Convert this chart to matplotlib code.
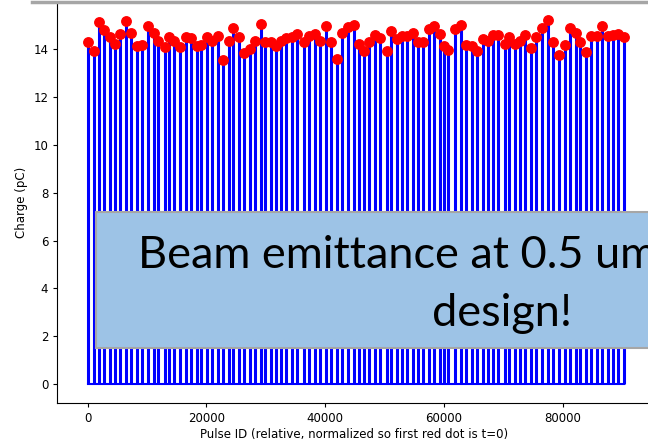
import matplotlib.pyplot as plt
from matplotlib.patches import Rectangle
from matplotlib.lines import Line2D

# pulse positions (relative pulse ID) and measured charge per pulse (pC)
pulse_id = [0, 1110, 1850, 2792, 3801, 4642, 5483, 6493, 7283, 8292,
            9133, 10092, 11202, 11875, 13002, 13725, 14566, 15575, 16585, 17425,
            18384, 19108, 20117, 20958, 21916, 22757, 23767, 24557, 25566, 26290,
            27349, 28258, 29200, 29940, 30831, 31790, 32631, 33472, 34414, 35322,
            36382, 37273, 38232, 39073, 40200, 41041, 41983, 42824, 43833, 44842,
            45633, 46524, 47432, 48374, 49215, 50342, 51015, 52024, 52865, 53824,
            54716, 55674, 56515, 57524, 58365, 59307, 60047, 60720, 61898, 62907,
            63681, 64690, 65531, 66489, 67330, 68222, 69063, 70190, 70980, 71990,
            72831, 73672, 74614, 75455, 76464, 77473, 78381, 79323, 80332, 81173,
            82132, 82855, 83932, 84773, 85664, 86623, 87565, 88406, 89314, 90256]
charge = [14.28, 13.90, 15.10, 14.80, 14.50, 14.20, 14.60, 15.15, 14.65, 14.12,
          14.15, 14.95, 14.67, 14.34, 14.07, 14.48, 14.34, 14.07, 14.48, 14.44,
          14.10, 14.16, 14.50, 14.33, 14.53, 13.52, 14.34, 14.85, 14.50, 13.82,
          13.99, 14.34, 15.03, 14.30, 14.30, 14.12, 14.34, 14.44, 14.50, 14.60,
          14.30, 14.53, 14.60, 14.34, 14.95, 14.30, 13.59, 14.67, 14.89, 14.99,
          14.20, 13.90, 14.30, 14.58, 14.47, 13.92, 14.75, 14.40, 14.53, 14.53,
          14.65, 14.28, 14.30, 14.81, 14.95, 14.62, 14.10, 13.96, 14.81, 14.99,
          14.16, 14.12, 13.90, 14.41, 14.33, 14.58, 14.58, 14.20, 14.50, 14.19,
          14.34, 14.58, 14.03, 14.50, 14.85, 15.19, 14.30, 13.72, 14.16, 14.85,
          14.67, 14.30, 13.86, 14.55, 14.55, 14.95, 14.55, 14.58, 14.60, 14.50]

y_ticks = [0, 2, 4, 6, 8, 10, 12, 14]
x_ticks = [0, 20000, 40000, 60000, 80000]

fig = plt.figure(figsize=(6.48, 4.46), dpi=100)
ax = fig.add_axes([0.0884, 0.0964, 0.916, 0.899])

# each pulse drawn as a blue spike from the baseline, red dot on the peak
ax.vlines(pulse_id, 0, charge, color='#0000ff', linewidth=2.2, zorder=2)
ax.plot([pulse_id[0], pulse_id[-1]], [0, 0], color='#0000ff', linewidth=1.5, zorder=2)
ax.plot(pulse_id, charge, 'o', color='#ff0000', markersize=6.8, zorder=3)

ax.set_xlim(-5100, 94800)
ax.set_ylim(-0.78, 15.95)
ax.set_xticks(x_ticks)
ax.set_yticks(y_ticks)
ax.tick_params(labelsize=8.5, length=3)
ax.set_xlabel("Pulse ID (relative, normalized so first red dot is t=0)", fontsize=8.5, labelpad=2)
ax.set_ylabel("Charge (pC)", fontsize=8.5)
ax.spines['top'].set_visible(False)

# frame line along the top edge
fig.add_artist(Line2D([0.049, 1.0], [0.996, 0.996], color='#a6a6a6', linewidth=2.5))

# callout box over the plot
fig.add_artist(Rectangle((0.148, 0.2197), 0.9, 0.305, facecolor='#9dc3e6',
                         edgecolor='#a6a6a6', linewidth=1.5, zorder=5))
fig.text(0.213, 0.4, "Beam emittance at 0.5 um", fontsize=32.5, family='Lato',
         color='black', zorder=6)
fig.text(0.667, 0.27, "design!", fontsize=32.5, family='Lato', color='black', zorder=6)

plt.savefig("out.png", dpi=100)
